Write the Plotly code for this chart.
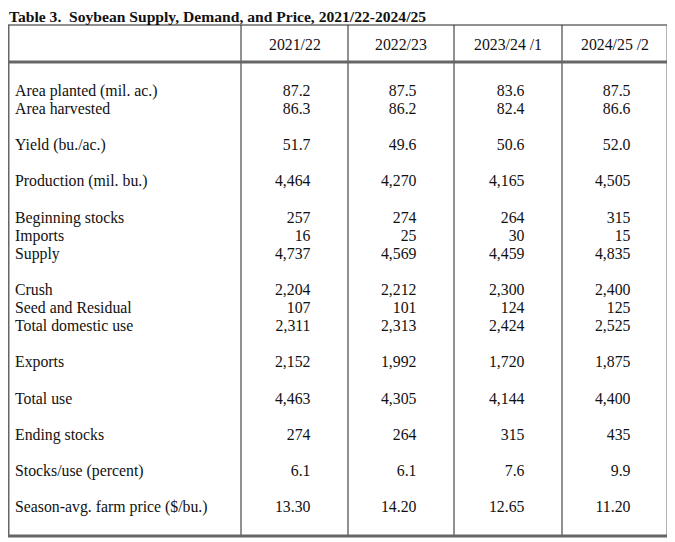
import plotly.graph_objects as go

title = "Table 3.  Soybean Supply, Demand, and Price, 2021/22-2024/25"
years = ["2021/22", "2022/23", "2023/24 /1", "2024/25 /2"]

# row labels, grouped; a blank line sits between groups
groups = [
    ["Area planted (mil. ac.)", "Area harvested"],
    ["Yield (bu./ac.)"],
    ["Production (mil. bu.)"],
    ["Beginning stocks", "Imports", "Supply"],
    ["Crush", "Seed and Residual", "Total domestic use"],
    ["Exports"],
    ["Total use"],
    ["Ending stocks"],
    ["Stocks/use (percent)"],
    ["Season-avg. farm price ($/bu.)"],
]
fmts = [".1f", ".1f", ".1f", ",.0f", ",.0f", ",.0f", ",.0f", ",.0f",
        ",.0f", ",.0f", ",.0f", ",.0f", ",.0f", ".1f", ".2f"]

v2021 = [87.2, 86.3, 51.7, 4464, 257, 16, 4737, 2204, 107, 2311, 2152, 4463, 274, 6.1, 13.30]
v2022 = [87.5, 86.2, 49.6, 4270, 274, 25, 4569, 2212, 101, 2313, 1992, 4305, 264, 6.1, 14.20]
v2023 = [83.6, 82.4, 50.6, 4165, 264, 30, 4459, 2300, 124, 2424, 1720, 4144, 315, 7.6, 12.65]
v2024 = [87.5, 86.6, 52.0, 4505, 315, 15, 4835, 2400, 125, 2525, 1875, 4400, 435, 9.9, 11.20]

FONT = "Liberation Serif"
INK = "#111111"
col_x = [241, 348, 454, 562, 668]
top, head_bot, bottom, left = 25, 62, 536, 8
row0, step = 92, 18.1

labels, rows_y = [], []
line = 0
for g in groups:
    for lab in g:
        labels.append(lab)
        rows_y.append(row0 + step * line)
        line += 1
    line += 1

fig = go.Figure()
fig.add_trace(go.Scatter(
    x=[15] * len(labels), y=rows_y, text=labels, mode="text",
    textposition="middle right", textfont=dict(family=FONT, size=15.8, color=INK),
    hoverinfo="skip"))

for i, vals in enumerate([v2021, v2022, v2023, v2024]):
    txt = [format(v, f) for v, f in zip(vals, fmts)]
    fig.add_trace(go.Scatter(
        x=[col_x[i + 1] - 37.5] * len(txt), y=rows_y, text=txt, mode="text",
        textposition="middle left", textfont=dict(family=FONT, size=15.8, color=INK),
        hoverinfo="skip"))
    fig.add_annotation(x=(col_x[i] + col_x[i + 1]) / 2, y=44, text=years[i],
                       showarrow=False, font=dict(family=FONT, size=15.8, color=INK))

fig.add_annotation(x=0, xref="paper", y=16.5, text="<b>" + title + "</b>", xanchor="left",
                   showarrow=False, borderpad=0,
                   font=dict(family=FONT, size=15.6, color=INK))

shapes = []
for x in col_x[:-1]:
    shapes.append(dict(type="line", x0=x, x1=x, y0=top, y1=bottom,
                       line=dict(color="#222222", width=1)))
shapes.append(dict(type="line", x0=left, x1=col_x[-1], y0=top, y1=top,
                   line=dict(color="#222222", width=1.2)))
for y in [head_bot, bottom]:
    shapes.append(dict(type="line", x0=left, x1=col_x[-1], y0=y, y1=y,
                       line=dict(color="#666666", width=3)))
for x in [left, col_x[-1]]:
    shapes.append(dict(type="line", x0=x, x1=x, y0=top, y1=bottom,
                       line=dict(color="#666666", width=3)))

# page body has an 8px margin, so the axes are offset to keep screen pixels = axis units
fig.update_layout(
    width=675, height=542, margin=dict(l=0, r=0, t=0, b=0),
    paper_bgcolor="white", plot_bgcolor="white", showlegend=False,
    xaxis=dict(range=[8, 683], visible=False, fixedrange=True),
    yaxis=dict(range=[550, 8], visible=False, fixedrange=True),
    shapes=shapes,
)

fig.write_html("out.html")
